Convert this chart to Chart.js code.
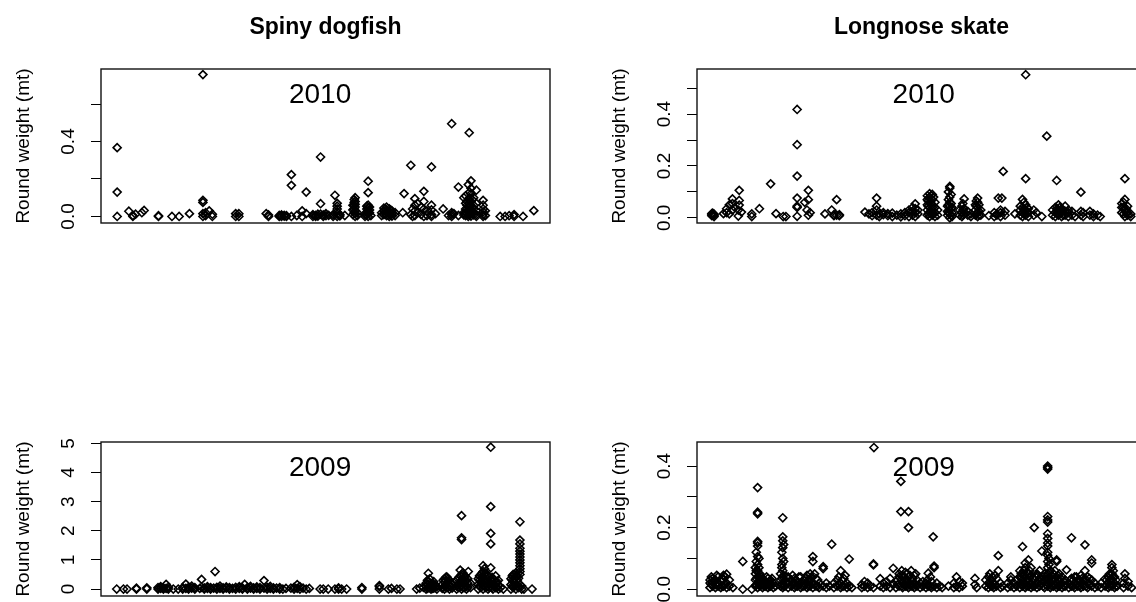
<!DOCTYPE html>
<html>
<head>
<meta charset="utf-8">
<script src="https://cdn.jsdelivr.net/npm/chart.js@4.4.0/dist/chart.umd.min.js"></script>
<style>
    html, body { margin: 0; padding: 0; background: #fff; overflow: hidden; width: 1136px; height: 602px; }
    .panel { position: absolute; width: 596px; height: 373px; }
</style>
</head>
<body>
<div class="panel" style="left:0;top:0"><canvas id="dogfish2010" width="596" height="373"></canvas></div>
<div class="panel" style="left:596px;top:0"><canvas id="skate2010" width="596" height="373"></canvas></div>
<div class="panel" style="left:0;top:373px"><canvas id="dogfish2009" width="596" height="373"></canvas></div>
<div class="panel" style="left:596px;top:373px"><canvas id="skate2009" width="596" height="373"></canvas></div>

<script>
// Données : [position du trait (0-100), [poids en mt, ...]]
const dogfish2010 = [
    [3.6, [0, 0.13, 0.367]], [6.2, [0.028]], [7.1, [0, 0.005]], [7.7, [0.012]], [9.1, [0.02]], [9.6, [0.032]],
    [12.8, [0, 0.004]], [15.8, [0]], [17.4, [0]], [19.7, [0.015]],
    [22.7, [0, 0.015, 0.075, 0.086, 0.757]], [23.3, [0.005, 0.02]], [24.1, [0.03]], [24.8, [0, 0.012]],
    [30.0, [0, 0.015]], [30.7, [0, 0.015]], [36.8, [0.015]], [37.3, [0, 0.008]],
    [39.7, [0, 0.005]], [40.2, [0, 0.008]], [40.8, [0.002, 0.006]], [41.3, [0, 0.004]],
    [42.4, [0, 0.166, 0.223]], [43.6, [0.005]], [44.8, [0, 0.03]], [45.7, [0.015, 0.13]],
    [47.2, [0, 0.01]], [47.8, [0, 0.006]], [48.3, [0.002, 0.012]], [48.9, [0.012, 0.068, 0.317]],
    [49.5, [0, 0.008]], [50.1, [0.004, 0.015]], [50.7, [0.006]], [51.7, [0, 0.01]], [52.1, [0.113]],
    [52.6, [0, 0.012, 0.025, 0.04, 0.055, 0.07]], [53.2, [0.003, 0.01]], [54.3, [0.005]],
    [56.1, [0.01, 0.035, 0.06]], [56.4, [0.02, 0.04, 0.06, 0.075, 0.09]], [56.6, [0, 0.015, 0.03, 0.05, 0.065, 0.08, 0.1]],
    [57.1, [0.005, 0.02]], [58.8, [0, 0.01]], [59.2, [0.01, 0.025, 0.04, 0.055]],
    [59.5, [0, 0.015, 0.03, 0.045, 0.06, 0.127, 0.188]], [59.8, [0.02, 0.035, 0.05]], [60.1, [0.005]],
    [62.5, [0.005, 0.02]], [63.0, [0.01, 0.03, 0.045]], [63.3, [0.015, 0.04]], [63.6, [0.005, 0.02, 0.035, 0.05]],
    [64.2, [0, 0.01, 0.025, 0.04]], [64.5, [0.02, 0.035]], [64.8, [0.002, 0.015, 0.03]], [65.5, [0.005, 0.02]],
    [67.2, [0.02]], [67.5, [0.122]], [69.0, [0.01, 0.273]], [69.4, [0, 0.04]],
    [69.9, [0.005, 0.03, 0.06, 0.095]], [70.5, [0.02, 0.07]], [71.3, [0.01, 0.05]],
    [71.9, [0, 0.04, 0.08, 0.134]], [72.6, [0.005, 0.03]], [73.6, [0, 0.01, 0.035, 0.06, 0.264]],
    [74.5, [0.015]], [76.2, [0.04]], [77.4, [0.005]], [78.1, [0, 0.01, 0.02, 0.495]], [78.6, [0.015]],
    [79.6, [0.005, 0.157]], [80.8, [0.008, 0.02, 0.1]], [81.2, [0.005, 0.02, 0.04, 0.07, 0.11]],
    [81.5, [0.015, 0.06, 0.08]], [81.8, [0, 0.01, 0.03, 0.05, 0.09, 0.17]], [82.0, [0.447]],
    [82.1, [0.01, 0.03, 0.05, 0.07, 0.1, 0.13]], [82.4, [0.002, 0.015, 0.035, 0.06, 0.08, 0.12, 0.15, 0.19]],
    [82.7, [0.02, 0.045, 0.09]], [83.0, [0.008, 0.02, 0.04, 0.06, 0.1]],
    [83.6, [0, 0.01, 0.03, 0.07, 0.14]], [85.1, [0, 0.01, 0.025, 0.04, 0.06, 0.086]], [85.6, [0.005, 0.03]],
    [88.9, [0]], [90.0, [0]], [90.9, [0.004]], [92.0, [0, 0.01]], [94.0, [0]], [96.4, [0.031]]
];

const skate2010 = [
    [3.3, [0.008, 0.012, 0.016]], [3.5, [0.01, 0.018]], [3.8, [0.005, 0.01, 0.014]], [5.9, [0.016]], [6.6, [0.02, 0.035]],
    [7.2, [0.015, 0.05]], [7.9, [0.03, 0.055, 0.073]], [8.4, [0.04]], [9.2, [0.007, 0.03]],
    [9.4, [0.049, 0.067, 0.106]], [9.9, [0.022]], [12.2, [0.005, 0.015]], [13.9, [0.035]],
    [16.4, [0.131]], [17.6, [0.016]], [19.2, [0.005]], [19.8, [0.005]],
    [22.3, [0.006, 0.04, 0.045, 0.076, 0.161, 0.282, 0.418]], [24.0, [0.06]], [24.5, [0.03]],
    [24.8, [0.01, 0.07, 0.106]], [25.2, [0.02]], [28.5, [0.015]], [30.0, [0.03]], [30.5, [0.008, 0.012]],
    [31.1, [0.01, 0.07]], [31.7, [0.008, 0.012]], [37.4, [0.022]], [38.3, [0.015]], [39.0, [0.008, 0.02]],
    [40.0, [0.01, 0.03, 0.045, 0.076]], [40.6, [0.005, 0.015]], [41.5, [0.012, 0.02]], [42.5, [0.008, 0.016]],
    [43.5, [0.005, 0.018]], [44.5, [0.01]], [45.4, [0.004, 0.015]], [46.3, [0.008, 0.02]],
    [47.2, [0.005, 0.02, 0.03]], [48.0, [0.01, 0.025, 0.04]], [48.6, [0.005, 0.02, 0.035, 0.054]],
    [49.2, [0.015, 0.03]], [51.3, [0.01, 0.03, 0.05, 0.07, 0.085]], [51.5, [0.015, 0.045, 0.065]],
    [51.8, [0.005, 0.02, 0.04, 0.06, 0.08, 0.093]], [52.1, [0.025, 0.055, 0.085]],
    [52.4, [0.01, 0.03, 0.05, 0.07, 0.09]], [52.7, [0.015, 0.035, 0.08]], [53.0, [0.005, 0.02, 0.04, 0.06]], [53.6, [0.01, 0.03]],
    [55.8, [0.01, 0.025, 0.045]], [56.0, [0.02, 0.05, 0.07, 0.1]], [56.3, [0, 0.015, 0.03, 0.045, 0.06, 0.08, 0.115, 0.121]],
    [56.6, [0.01, 0.035, 0.055, 0.09]], [56.8, [0.005, 0.02, 0.04]], [58.5, [0.01, 0.03]], [59.0, [0.005, 0.02, 0.045]],
    [59.2, [0.01, 0.03, 0.055]], [59.5, [0.015, 0.035, 0.073]],
    [60.3, [0.01, 0.025]], [61.0, [0.005, 0.015]], [62.0, [0.01, 0.03, 0.05]], [62.2, [0.015, 0.045, 0.065]],
    [62.5, [0.005, 0.02, 0.04, 0.06, 0.076]], [62.8, [0.01, 0.025, 0.05]],
    [63.2, [0.01, 0.03]], [65.0, [0.008]], [66.2, [0.005, 0.02]], [66.8, [0.01, 0.015]], [67.1, [0.076]],
    [67.6, [0.005, 0.02, 0.03]], [67.9, [0.076]], [68.2, [0.179]], [68.6, [0.01, 0.025]], [70.8, [0.015]],
    [72.0, [0.01, 0.03, 0.045]], [72.5, [0.005, 0.02, 0.04, 0.071]], [72.8, [0.015, 0.035, 0.06]],
    [73.2, [0.01, 0.03, 0.05, 0.151, 0.552]], [73.5, [0.02, 0.04]],
    [73.8, [0.005, 0.02, 0.035]], [75.0, [0.01, 0.03]], [75.6, [0.02]], [76.8, [0.005]], [77.9, [0.315]],
    [79.2, [0.01, 0.03]], [79.8, [0.005, 0.02, 0.04]], [80.1, [0.144]], [80.2, [0.015, 0.035]], [80.5, [0.01, 0.03, 0.05]],
    [80.8, [0.02, 0.04]], [81.2, [0.005, 0.02, 0.035]], [81.6, [0.01, 0.03]], [82.0, [0.01, 0.025, 0.045]],
    [82.7, [0.005, 0.02, 0.03]], [83.5, [0.01, 0.025]],
    [84.2, [0.005]], [85.5, [0.01, 0.025, 0.099]], [86.0, [0.005, 0.02]], [87.5, [0.01, 0.025]],
    [88.3, [0.005, 0.015]], [89.2, [0.01]], [89.8, [0.005]], [94.6, [0.02, 0.04, 0.055]], [95.0, [0.015, 0.04, 0.06]],
    [95.3, [0.005, 0.03, 0.071, 0.151]], [95.6, [0.02, 0.035]], [95.9, [0.01, 0.02, 0.045]], [96.6, [0.005, 0.015]]
];

const dogfish2009 = [
    [3.5, [0]], [5.0, [0]], [5.8, [0]], [7.9, [0, 0.03]], [10.2, [0, 0.04]],
    [12.7, [0, 0.05]], [13.3, [0.02, 0.08]], [13.9, [0, 0.04]], [14.5, [0.02, 0.16]], [15.0, [0, 0.06]],
    [16.1, [0]], [17.2, [0]], [18.2, [0, 0.05]], [18.9, [0.02, 0.17]], [19.5, [0, 0.06]], [20.2, [0.03, 0.1]],
    [20.9, [0, 0.05]], [22.0, [0.02]], [22.4, [0.06, 0.33]], [23.0, [0, 0.04]], [23.7, [0.02, 0.08]],
    [24.4, [0, 0.05]], [25.1, [0.03]], [25.4, [0.6]], [25.8, [0, 0.06]], [26.5, [0.02, 0.1]], [27.2, [0, 0.04]],
    [27.9, [0.03, 0.07]], [28.6, [0, 0.05]], [29.3, [0.02]], [30.0, [0, 0.06]], [30.8, [0.02, 0.08]],
    [31.5, [0, 0.04]], [32.0, [0.16]], [32.6, [0, 0.05]], [33.3, [0.03, 0.09]], [34.0, [0, 0.04]],
    [34.7, [0.02, 0.07]], [35.4, [0, 0.05]], [36.3, [0.03, 0.29]], [37.0, [0, 0.06]], [37.7, [0.02, 0.09]],
    [38.4, [0, 0.04]], [39.1, [0.03]], [39.8, [0, 0.05]], [40.5, [0]], [41.2, [0.02]],
    [42.3, [0.03]], [43.0, [0, 0.06]], [43.7, [0.02, 0.15]], [44.3, [0, 0.08]], [45.0, [0.03]], [45.7, [0]], [46.4, [0.02]],
    [48.8, [0]], [49.5, [0]], [50.6, [0]], [52.1, [0]], [52.9, [0, 0.04]], [53.6, [0]], [54.7, [0]],
    [58.1, [0, 0.05]], [62.0, [0, 0.08, 0.12]], [64.0, [0]], [64.7, [0.02]], [65.9, [0]], [66.6, [0]],
    [70.3, [0]], [71.0, [0.03]], [71.8, [0.06]],
    [72.4, [0, 0.1, 0.2]], [72.7, [0.02, 0.15, 0.3]], [72.9, [0.05, 0.25, 0.54]], [73.2, [0.05, 0.2, 0.35]],
    [73.5, [0, 0.1, 0.18]], [73.8, [0.02, 0.08, 0.2]], [74.1, [0.03, 0.12, 0.25]], [74.4, [0.05, 0.15]], [74.8, [0, 0.08]],
    [76.0, [0.02, 0.15]], [76.2, [0.05, 0.3]], [76.5, [0, 0.1, 0.25, 0.35]], [76.8, [0.1, 0.3, 0.4]],
    [77.0, [0.05, 0.2, 0.42]], [77.3, [0.05, 0.25, 0.35]], [77.6, [0, 0.12, 0.3]], [77.9, [0.1, 0.2]], [78.2, [0.03, 0.15]],
    [79.2, [0, 0.1, 0.3]], [79.5, [0.15, 0.35]], [79.7, [0.05, 0.2, 0.4]], [80.0, [0.65]], [80.1, [0.1, 0.25, 0.45]],
    [80.3, [0, 0.15, 0.3, 0.5, 1.7, 1.76, 2.52]], [80.6, [0.05, 0.35, 0.55]], [80.9, [0.05, 0.2, 0.4]],
    [81.1, [0.15, 0.25, 0.45]], [81.4, [0, 0.1, 0.3]], [81.7, [0.05, 0.2, 0.35]], [81.8, [0.6]], [82.3, [0.05, 0.2]],
    [84.0, [0, 0.15, 0.35]], [84.3, [0.1, 0.3, 0.45]], [84.6, [0.05, 0.25, 0.5]], [84.9, [0.2, 0.35, 0.55]],
    [85.1, [0, 0.15, 0.4, 0.6, 0.8]], [85.4, [0.1, 0.25, 0.5, 0.7]], [85.7, [0.05, 0.3, 0.55]], [86.0, [0.1, 0.35]],
    [86.2, [0, 0.2, 0.45]], [86.5, [0.05, 0.25, 0.4]], [86.8, [0.1, 0.3, 0.73, 1.55, 1.91, 2.83, 4.87]],
    [87.1, [0.05, 0.25, 0.4]], [87.3, [0, 0.15, 0.35]], [87.6, [0.1, 0.3]], [87.9, [0.05, 0.2, 0.45]],
    [88.2, [0.05, 0.25]], [88.5, [0, 0.15, 0.3]], [89.0, [0.05]], [89.6, [0]],
    [91.3, [0, 0.15, 0.35]], [91.6, [0.1, 0.3, 0.45]], [91.8, [0.05, 0.25, 0.5]], [92.1, [0.1, 0.35, 0.5]],
    [92.4, [0, 0.15, 0.45, 0.55]], [92.7, [0.1, 0.3, 0.45]], [93.0, [0.05, 0.2, 0.37]],
    [93.3, [0.5, 0.6, 0.7, 0.8, 0.9, 1.0, 1.1, 1.2, 1.3, 1.4, 1.55, 1.68, 2.31]], [93.7, [0, 0.1]],
    [94.2, [0]], [96.0, [0]]
];

const skate2009 = [
    [2.9, [0.005, 0.02, 0.03]], [3.2, [0.015, 0.04]], [3.5, [0.01, 0.025, 0.035]], [4.1, [0.005, 0.015, 0.03]],
    [4.4, [0.02, 0.045]], [4.7, [0.01, 0.02, 0.04]], [5.3, [0.005, 0.025]], [5.6, [0.01, 0.035]],
    [5.9, [0.01, 0.03, 0.045]], [6.3, [0.015, 0.04]], [6.6, [0.005, 0.02, 0.049]], [7.2, [0.01, 0.03]], [8.0, [0.005]],
    [10.2, [0, 0.09]], [12.2, [0]], [13.0, [0.01, 0.03, 0.05, 0.07]], [13.2, [0.015, 0.035, 0.06, 0.09, 0.12]],
    [13.5, [0.005, 0.02, 0.04, 0.06, 0.08, 0.106, 0.14, 0.15, 0.155, 0.245, 0.25, 0.33]],
    [13.8, [0.02, 0.04, 0.07, 0.1]], [14.0, [0.01, 0.03, 0.05]], [14.3, [0.015, 0.04]], [14.6, [0.005, 0.02, 0.035]],
    [14.9, [0.01, 0.03]], [15.2, [0.01, 0.025]], [15.5, [0.015, 0.04]], [15.8, [0.005, 0.02, 0.035]],
    [16.1, [0.01, 0.025]], [16.4, [0.01, 0.03]], [16.7, [0.015, 0.035]], [17.0, [0.005, 0.02]], [17.5, [0.01]],
    [18.6, [0.01, 0.03, 0.05]], [18.9, [0.015, 0.035, 0.07, 0.08, 0.12]],
    [19.1, [0.005, 0.02, 0.04, 0.06, 0.1, 0.135, 0.157, 0.17, 0.232]], [19.3, [0.01, 0.045, 0.09, 0.145]],
    [19.6, [0.01, 0.03]], [19.9, [0.02, 0.04]], [20.3, [0.005, 0.02, 0.04]],
    [21.0, [0.01, 0.03]], [21.3, [0.02, 0.045]], [21.7, [0.005, 0.02, 0.035]], [22.0, [0.01, 0.03]],
    [22.4, [0.01, 0.025]], [22.7, [0.015, 0.04]], [23.1, [0.005, 0.02, 0.04]], [23.4, [0.01, 0.025]],
    [23.8, [0.01, 0.03]], [24.1, [0.015, 0.035]], [24.5, [0.005, 0.02, 0.045]], [24.8, [0.01, 0.03]],
    [25.2, [0.01, 0.03, 0.05]], [25.5, [0.02, 0.04]], [25.8, [0.005, 0.02, 0.09, 0.106]], [26.2, [0.015, 0.05]],
    [26.5, [0.01, 0.035]], [26.9, [0.01, 0.03]], [27.2, [0.005, 0.02]], [28.1, [0.01, 0.067, 0.073]],
    [28.8, [0.005, 0.02]], [29.5, [0.01]],
    [30.0, [0.146]], [30.5, [0.005, 0.02]], [31.2, [0.01, 0.03]], [31.6, [0.015, 0.04]], [32.0, [0.005, 0.02, 0.06]],
    [32.3, [0.01, 0.03]], [32.7, [0.01, 0.035]], [33.0, [0.015, 0.045]],
    [33.4, [0.005, 0.02]], [33.9, [0.01, 0.098]], [34.5, [0.005]], [36.7, [0.005, 0.015]], [37.3, [0.01, 0.025]],
    [38.0, [0.005, 0.02]], [38.6, [0.01]], [39.3, [0.005, 0.079, 0.082]], [39.4, [0.46]], [40.8, [0.01, 0.034]],
    [41.5, [0.005, 0.02]], [42.2, [0.01, 0.025]], [43.0, [0.005, 0.035]], [43.7, [0.015, 0.068]], [44.3, [0.005, 0.025]],
    [44.7, [0.015, 0.03]], [45.0, [0.01, 0.04, 0.05]], [45.4, [0.252, 0.35]], [45.6, [0.01, 0.03, 0.06]],
    [45.8, [0.005, 0.02, 0.045]], [46.1, [0.015, 0.04]], [46.4, [0.01, 0.03, 0.055]], [46.8, [0.01, 0.03, 0.05]],
    [47.1, [0.005, 0.02, 0.04, 0.2, 0.252]], [47.4, [0.015, 0.045]], [47.7, [0.01, 0.03, 0.06]], [48.1, [0.01, 0.035]],
    [48.4, [0.005, 0.02, 0.045]], [48.7, [0.015, 0.05]], [49.0, [0.01, 0.03]],
    [49.7, [0.005, 0.02]], [50.3, [0.01, 0.025]], [51.0, [0.005, 0.02]], [51.3, [0.015, 0.03]], [51.5, [0.01, 0.052]],
    [52.0, [0.01, 0.04]], [52.2, [0.005, 0.025]],
    [52.6, [0.17]], [52.8, [0.01, 0.07, 0.075]], [53.4, [0.005, 0.02]], [54.1, [0.01]], [54.6, [0.005]],
    [56.0, [0.01]], [57.2, [0.005, 0.02]], [57.8, [0.01, 0.04]], [58.4, [0.005, 0.025]], [59.1, [0.01, 0.02]],
    [61.9, [0.015, 0.035]], [62.3, [0.005]], [64.3, [0.01, 0.03]], [64.9, [0.005, 0.02, 0.04]], [65.2, [0.015, 0.05]],
    [65.5, [0.01, 0.03]], [65.8, [0.01, 0.04]], [66.1, [0.005, 0.02]], [66.4, [0.015, 0.045]], [66.7, [0.01, 0.035]],
    [67.1, [0.06, 0.109]], [67.6, [0.005, 0.02]], [68.1, [0.01]],
    [69.2, [0.005, 0.02]], [69.9, [0.01, 0.03, 0.04]], [70.6, [0.005, 0.02]], [71.2, [0.01, 0.03]],
    [71.9, [0.005, 0.02, 0.04, 0.06]], [72.2, [0.015, 0.035, 0.05]], [72.5, [0.01, 0.03, 0.05, 0.138]],
    [72.8, [0.02, 0.045, 0.06]], [73.1, [0.005, 0.02, 0.04, 0.07, 0.085]], [73.4, [0.01, 0.03, 0.055]],
    [73.8, [0.01, 0.03, 0.05, 0.095]], [74.1, [0.015, 0.04, 0.06]], [74.4, [0.005, 0.02, 0.045, 0.07]],
    [74.8, [0.01, 0.035]], [75.1, [0.01, 0.03, 0.2]], [75.4, [0.015, 0.04]],
    [75.7, [0.005, 0.02, 0.05]], [76.0, [0.02, 0.045]], [76.3, [0.01, 0.035, 0.06]], [76.8, [0.02, 0.124]],
    [77.1, [0.01, 0.04]], [77.4, [0.005, 0.03, 0.05]], [77.7, [0.015, 0.04]],
    [78.1, [0.01, 0.03, 0.05, 0.07, 0.09, 0.11, 0.12, 0.14, 0.15, 0.165, 0.18, 0.218, 0.225, 0.236, 0.39, 0.395, 0.4]],
    [78.4, [0.015, 0.035, 0.055, 0.08, 0.1]], [78.7, [0.005, 0.02, 0.04, 0.06]], [79.0, [0.01, 0.03, 0.045]],
    [79.4, [0.01, 0.03, 0.05]], [79.7, [0.015, 0.035, 0.06]], [80.1, [0.005, 0.02, 0.04, 0.09, 0.095]],
    [80.4, [0.01, 0.03, 0.045]], [80.7, [0.01, 0.03, 0.05]], [81.0, [0.015, 0.035]], [81.3, [0.005, 0.02, 0.04]],
    [81.7, [0.01, 0.025]], [82.0, [0.01, 0.03]], [82.3, [0.063]], [82.8, [0.005, 0.02]], [83.1, [0.015, 0.03]],
    [83.4, [0.01, 0.035, 0.167]], [83.8, [0.01, 0.03]], [84.1, [0.005, 0.02, 0.04]], [84.5, [0.015, 0.04]],
    [84.8, [0.01, 0.03]], [85.2, [0.01, 0.03]], [85.5, [0.005, 0.02, 0.045]], [85.8, [0.015, 0.035]],
    [86.1, [0.01, 0.03]], [86.4, [0.06, 0.144]], [86.7, [0.01, 0.03]], [87.0, [0.005, 0.02, 0.04]],
    [87.4, [0.015, 0.035]], [87.9, [0.01, 0.03, 0.085, 0.095]],
    [88.6, [0.005, 0.02]], [89.3, [0.01]], [90.0, [0.005, 0.02]], [90.9, [0.01, 0.034]], [91.2, [0.015, 0.03]],
    [91.6, [0.005, 0.02, 0.04]], [91.9, [0.01, 0.03, 0.05]], [92.4, [0.01, 0.03, 0.05, 0.07, 0.08]],
    [92.7, [0.015, 0.04, 0.06]], [93.0, [0.005, 0.02, 0.04]], [93.3, [0.01, 0.03]], [93.6, [0.01]],
    [95.0, [0.005, 0.02]], [95.3, [0.035, 0.05]], [96.0, [0.01, 0.025]], [96.8, [0.005]]
];

// Graduations de l'axe Y et celles qui portent une étiquette
const dogfish2010Ticks = [0, 0.2, 0.4, 0.6];
const dogfish2010Labels = [0, 0.4];
const skate2010Ticks = [0, 0.1, 0.2, 0.3, 0.4, 0.5];
const skate2010Labels = [0, 0.2, 0.4];
const dogfish2009Ticks = [0, 1, 2, 3, 4, 5];
const dogfish2009Labels = [0, 1, 2, 3, 4, 5];
const skate2009Ticks = [0, 0.1, 0.2, 0.3, 0.4];
const skate2009Labels = [0, 0.2, 0.4];

const FONT = '"Liberation Sans", Arial, sans-serif';

// Cadre + titres dessinés autour de la zone du graphique
const panelText = {
    id: 'panelText',
    afterDraw(chart, args, opts) {
        const { ctx, chartArea: a } = chart;
        const cx = (a.left + a.right) / 2;
        ctx.save();
        ctx.strokeStyle = '#111';
        ctx.lineWidth = 1.4;
        ctx.strokeRect(a.left, a.top, a.right - a.left, a.bottom - a.top);
        ctx.fillStyle = '#000';
        ctx.textAlign = 'center';
        ctx.textBaseline = 'alphabetic';
        if (opts.main) {
            ctx.font = 'bold 23px ' + FONT;
            ctx.fillText(opts.main, cx, a.top - 35);
        }
        // l'année est placée en unités de l'axe X
        ctx.font = '28px ' + FONT;
        ctx.fillText(opts.year, chart.scales.x.getPixelForValue(opts.yearX), a.top + 34);
        ctx.restore();
    }
};

function toPoints(cols) {
    const pts = [];
    cols.forEach(([x, ys]) => ys.forEach(y => pts.push({ x: x, y: y })));
    return pts;
}

// Largeur de l'étiquette la plus longue (pour centrer les étiquettes tournées)
function widestLabel(labels) {
    const m = document.createElement('canvas').getContext('2d');
    m.font = '19px ' + FONT;
    return Math.max(...labels.map(l => m.measureText(l).width));
}

/**
 * Crée un panneau (nuage de points) dans le canvas donné
 */
function initPanel(canvasId, cfg) {
    const ctx = document.getElementById(canvasId);
    if (!ctx) return;

    const fmt = v => v.toFixed(cfg.digits);
    const tickLen = 10;
    const labelPad = 101 - 69 - tickLen - widestLabel(cfg.labels.map(fmt)) / 2;

    new Chart(ctx, {
        type: 'scatter',
        data: {
            datasets: [{
                data: toPoints(cfg.data),
                pointStyle: 'rectRot',
                pointRadius: 4,
                pointBorderWidth: 1.6,
                borderColor: '#000',
                backgroundColor: 'rgba(0,0,0,0)'
            }]
        },
        options: {
            responsive: false,
            animation: false,
            events: [],
            layout: { padding: { left: 0, top: 69, right: 46, bottom: 150 } },
            plugins: {
                legend: { display: false },
                tooltip: { enabled: false },
                panelText: { main: cfg.main, year: cfg.year, yearX: cfg.yearX }
            },
            scales: {
                x: { type: 'linear', min: 0, max: 100, display: false },
                y: {
                    min: cfg.yMin,
                    max: cfg.yMax,
                    afterFit: s => { s.width = 101; },
                    afterBuildTicks: s => { s.ticks = cfg.ticks.map(v => ({ value: v })); },
                    border: { display: false },
                    grid: { drawOnChartArea: false, drawTicks: true, tickLength: tickLen, color: '#000', lineWidth: 1 },
                    ticks: {
                        autoSkip: false,
                        minRotation: 90,
                        maxRotation: 90,
                        crossAlign: 'center',
                        padding: labelPad,
                        color: '#000',
                        font: { family: FONT, size: 19 },
                        callback: v => cfg.labels.includes(v) ? fmt(v) : ''
                    },
                    title: {
                        display: true,
                        text: 'Round weight (mt)',
                        color: '#000',
                        font: { family: FONT, size: 19 },
                        padding: { top: 12, bottom: 0 }
                    }
                }
            }
        },
        plugins: [panelText]
    });
}

initPanel('dogfish2010', { main: 'Spiny dogfish', year: '2010', yearX: 48.8, data: dogfish2010, yMin: -0.035, yMax: 0.787,
    ticks: dogfish2010Ticks, labels: dogfish2010Labels, digits: 1 });
initPanel('skate2010', { main: 'Longnose skate', year: '2010', yearX: 50.5, data: skate2010, yMin: -0.020, yMax: 0.574,
    ticks: skate2010Ticks, labels: skate2010Labels, digits: 1 });
initPanel('dogfish2009', { main: '', year: '2009', yearX: 48.8, data: dogfish2009, yMin: -0.24, yMax: 5.05,
    ticks: dogfish2009Ticks, labels: dogfish2009Labels, digits: 0 });
initPanel('skate2009', { main: '', year: '2009', yearX: 50.5, data: skate2009, yMin: -0.022, yMax: 0.478,
    ticks: skate2009Ticks, labels: skate2009Labels, digits: 1 });
</script>
</body>
</html>
